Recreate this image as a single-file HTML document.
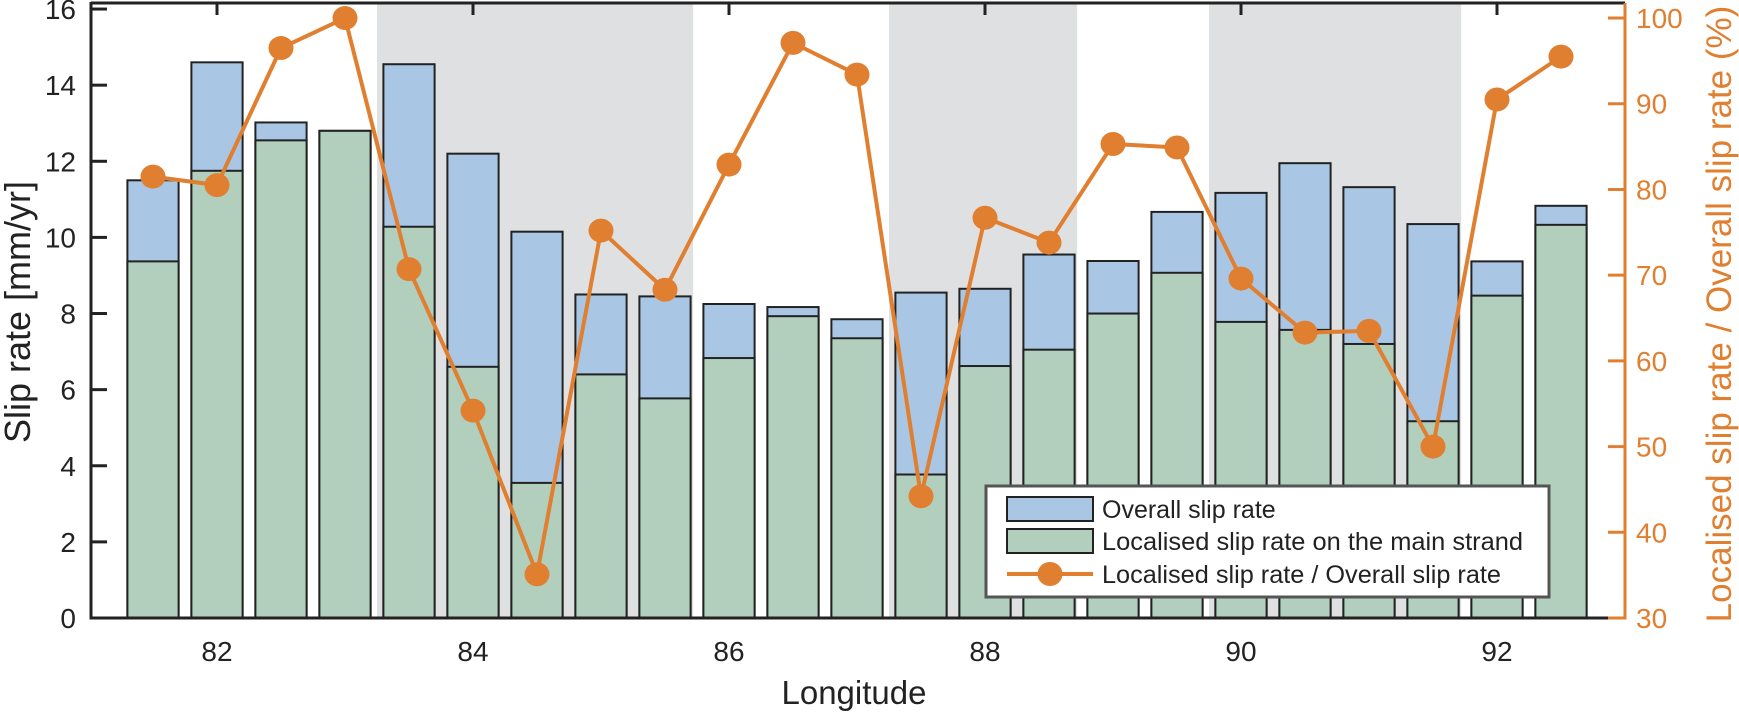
<!DOCTYPE html>
<html><head><meta charset="utf-8"><style>html,body{margin:0;padding:0;background:#fff}svg{display:block}text{font-family:"Liberation Sans",Arial,sans-serif}</style></head>
<body>
<svg width="1739" height="712" viewBox="0 0 1739 712" xmlns="http://www.w3.org/2000/svg">
<g id="g"></g>
</svg>
<script>
const NS="http://www.w3.org/2000/svg",g=document.getElementById('g');
function el(t,a,txt){const e=document.createElementNS(NS,t);for(const k in a)e.setAttribute(k,a[k]);if(txt!==undefined)e.textContent=txt;g.appendChild(e);return e;}
const X=l=>89+128*(l-81), Y=v=>618-38.06*v, R=p=>618-8.571*(p-30);
[[83.25,85.72],[87.25,88.72],[89.75,91.72]].forEach(b=>el('rect',{x:X(b[0]),y:3,width:X(b[1])-X(b[0]),height:615,fill:'#dfe0e2'}));
const d=[[81.5,11.5,9.37,81.5],[82,14.6,11.75,80.5],[82.5,13.02,12.55,96.5],[83,12.8,12.8,100],[83.5,14.55,10.28,70.7],[84,12.2,6.6,54.2],[84.5,10.15,3.55,35.1],[85,8.5,6.4,75.2],[85.5,8.45,5.77,68.3],[86,8.25,6.83,82.9],[86.5,8.17,7.93,97.1],[87,7.85,7.35,93.4],[87.5,8.55,3.77,44.2],[88,8.65,6.62,76.7],[88.5,9.55,7.05,73.8],[89,9.38,8.0,85.3],[89.5,10.67,9.07,84.9],[90,11.17,7.78,69.6],[90.5,11.95,7.57,63.3],[91,11.32,7.2,63.5],[91.5,10.35,5.17,50],[92,9.37,8.47,90.5],[92.5,10.83,10.33,95.5]];
d.forEach(r=>{const x=X(r[0])-25.6;
el('rect',{x:x,y:Y(r[1]),width:51.2,height:618-Y(r[1]),fill:'#a9c7e4',stroke:'#222',"stroke-width":2});
el('rect',{x:x,y:Y(r[2]),width:51.2,height:618-Y(r[2]),fill:'#b2cfbd',stroke:'#222',"stroke-width":2});});
el('line',{x1:91,y1:3,x2:1625,y2:3,stroke:'#222',"stroke-width":3});
el('line',{x1:91,y1:618,x2:1625,y2:618,stroke:'#222',"stroke-width":3});
el('line',{x1:91,y1:2,x2:91,y2:619.5,stroke:'#222',"stroke-width":3});
el('line',{x1:1625,y1:3,x2:1625,y2:619.5,stroke:'#e07f30',"stroke-width":3});
for(let v=0;v<=16;v+=2){const y=Y(v);el('line',{x1:91,y1:y,x2:107,y2:y,stroke:'#222',"stroke-width":3});el('text',{x:76,y:y+10,"text-anchor":"end","font-size":28,fill:'#222'},v);}
for(let p=30;p<=100;p+=10){const y=R(p);el('line',{x1:1608,y1:y,x2:1625,y2:y,stroke:'#e07f30',"stroke-width":3});el('text',{x:1636,y:y+10,"font-size":28,fill:'#e07f30'},p);}
for(let l=82;l<=92;l+=2){const x=X(l);el('line',{x1:x,y1:3,x2:x,y2:15,stroke:'#222',"stroke-width":3});el('text',{x:x,y:661,"text-anchor":"middle","font-size":28,fill:'#222'},l);}
el('polyline',{points:d.map(r=>X(r[0])+','+R(r[3])).join(' '),fill:'none',stroke:'#e07f30',"stroke-width":4,"stroke-linejoin":"round"});
d.forEach(r=>el('ellipse',{cx:X(r[0]),cy:R(r[3]),rx:12.5,ry:12,fill:'#e07f30'}));
el('text',{x:854,y:704,"text-anchor":"middle","font-size":33,fill:'#222'},'Longitude');
el('text',{transform:'translate(30,312) rotate(-90)',"text-anchor":"middle","font-size":36,fill:'#222'},'Slip rate [mm/yr]');
el('text',{transform:'translate(1731,314) rotate(-90)',"text-anchor":"middle","font-size":35,fill:'#e07f30'},'Localised slip rate / Overall slip rate (%)');
el('rect',{x:986,y:486,width:563,height:111,fill:'#fff',stroke:'#555',"stroke-width":3});
el('rect',{x:1007,y:497,width:86,height:24,fill:'#a9c7e4',stroke:'#222',"stroke-width":2});
el('rect',{x:1007,y:529,width:86,height:24,fill:'#b2cfbd',stroke:'#222',"stroke-width":2});
el('line',{x1:1007,y1:574,x2:1093,y2:574,stroke:'#e07f30',"stroke-width":4});
el('ellipse',{cx:1050,cy:574,rx:12.5,ry:12,fill:'#e07f30'});
el('text',{x:1102,y:518,"font-size":25,fill:'#222'},'Overall slip rate');
el('text',{x:1102,y:550,"font-size":25,fill:'#222',textLength:421,lengthAdjust:'spacingAndGlyphs'},'Localised slip rate on the main strand');
el('text',{x:1102,y:583,"font-size":25,fill:'#222',textLength:399,lengthAdjust:'spacingAndGlyphs'},'Localised slip rate / Overall slip rate');
</script>
</body></html>
